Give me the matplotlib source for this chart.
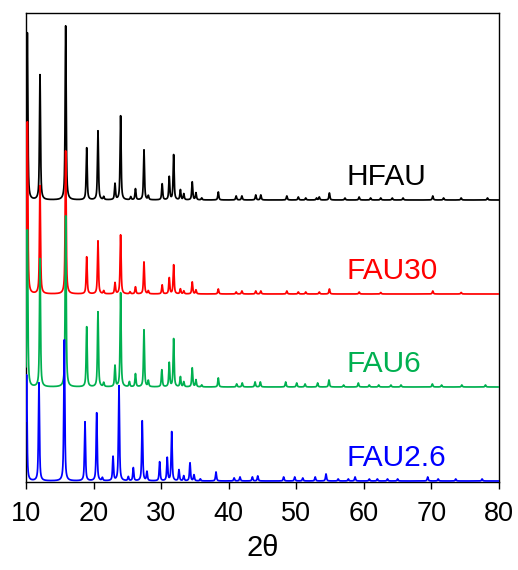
import matplotlib
matplotlib.use("Agg")
import matplotlib.pyplot as plt
import numpy as np

plt.rcParams['font.family'] = ['Liberation Sans', 'DejaVu Sans']

# sample names, colours and vertical offsets of the stacked patterns
samples = ["HFAU", "FAU30", "FAU6", "FAU2.6"]
colors = ["#000000", "#FF0000", "#00B050", "#0000FF"]
offsets = [281, 187, 94, 0]

# reflections: 2theta position (deg) and relative intensity
hfau_pos = [10.2, 12.07, 15.87, 18.98, 20.65, 21.5, 23.17, 24.0, 25.5, 26.2,
            27.46, 28.1, 30.15, 31.2, 31.85, 32.85, 33.35, 34.6, 35.15, 36.0,
            38.46, 41.1, 41.95, 44.0, 44.75, 48.6, 50.3, 51.4, 53.0, 53.4,
            54.9, 57.2, 59.3, 61.0, 62.5, 64.2, 65.8, 70.2, 71.8, 74.4, 78.3]
hfau_int = [167, 125, 174, 52, 69, 3, 16, 84, 3, 11,
            50, 4, 16, 23, 45, 10, 6, 18, 7, 2,
            8, 4, 4, 5, 5, 4, 3, 2, 2, 3,
            7, 2, 3, 2, 2, 2, 2, 4, 2, 2, 2]

fau30_pos = [10.2, 12.07, 15.87, 18.98, 20.65, 21.5, 23.17, 24.0, 25.4, 26.2,
             27.46, 28.1, 30.15, 31.2, 31.85, 32.85, 33.35, 34.6, 35.15,
             38.46, 41.1, 41.95, 44.0, 44.75, 48.6, 50.3, 51.4, 53.4, 54.9,
             59.3, 62.5, 70.2, 74.4]
fau30_int = [172, 108, 143, 37, 53, 3, 11, 59, 2, 7,
             32, 3, 9, 16, 29, 5, 3, 12, 4,
             5, 2, 3, 3, 3, 3, 2, 2, 2, 5,
             2, 1.5, 3, 1.5]

fau6_pos = [10.2, 12.07, 15.87, 18.98, 20.65, 21.5, 23.17, 24.0, 25.3, 26.2,
            27.46, 28.1, 30.1, 31.2, 31.85, 32.85, 33.35, 34.6, 35.15, 36.0,
            38.46, 41.18, 42.0, 43.9, 44.68, 48.43, 50.06, 51.3, 53.16, 54.84,
            57.0, 59.18, 60.8, 62.2, 64.0, 65.5, 70.14, 71.5, 74.5, 78.0]
fau6_int = [157, 128, 171, 60, 75, 4, 21, 94, 5, 13,
            57, 6, 17, 24, 48, 10, 5, 19, 7, 2,
            9, 3, 4, 5, 5, 5, 4, 3, 4, 7,
            2, 4, 2, 2, 2, 2, 3, 2, 2, 2]

fau26_pos = [10.08, 11.92, 15.67, 18.73, 20.46, 21.3, 22.88, 23.76, 25.14, 25.88,
             27.2, 27.9, 29.78, 30.9, 31.56, 32.64, 33.34, 34.27, 34.86, 35.8,
             38.12, 40.8, 41.67, 43.5, 44.3, 48.13, 49.77, 50.96, 52.8, 54.4,
             56.2, 57.7, 58.7, 60.8, 62.0, 63.5, 65.0, 69.45, 71.0, 73.6, 77.5]
fau26_int = [106, 98, 141, 59, 68, 3, 24, 95, 4, 13,
             60, 9, 19, 23, 49, 11, 5, 18, 6, 2,
             9, 3, 4, 4, 5, 4, 4, 3, 4, 7,
             2, 2, 4, 2, 2, 2, 2, 4, 2, 2, 2]

peaks = [(hfau_pos, hfau_int), (fau30_pos, fau30_int),
         (fau6_pos, fau6_int), (fau26_pos, fau26_int)]

two_theta = np.arange(10.0, 80.0001, 0.01)


def pattern(pos, inten, fwhm=0.18, eta=0.7):
    # pseudo-Voigt profile summed over the reflections
    y = np.zeros_like(two_theta)
    g = 4 * np.log(2) / fwhm ** 2
    for p, h in zip(pos, inten):
        d = two_theta - p
        lor = 1.0 / (1.0 + 4 * d ** 2 / fwhm ** 2)
        gau = np.exp(-g * d ** 2)
        y += h * (eta * lor + (1 - eta) * gau)
    return y


fig = plt.figure(figsize=(5.18, 5.70), dpi=100)
ax = fig.add_axes([0.0502, 0.1544, 0.9131, 0.8228])

for i, (name, col, off, (pos, inten)) in enumerate(zip(samples, colors, offsets, peaks)):
    ax.plot(two_theta, pattern(pos, inten) + off, color=col, lw=1.25, zorder=2 + i)
    ax.text(57.4, off + 15, name, color=col, fontsize=21.5, ha='left', va='baseline')

ax.set_xlim(10, 80)
ax.set_ylim(-1, 468)
ax.set_xticks(np.arange(10, 81, 10))
ax.set_yticks([])
ax.tick_params(axis='x', direction='out', length=5, width=1, labelsize=19.5, pad=9)
for s in ax.spines.values():
    s.set_linewidth(1.0)
ax.set_xlabel("2θ", fontsize=21, labelpad=5)

plt.savefig("out.png", dpi=100)
plt.close()
